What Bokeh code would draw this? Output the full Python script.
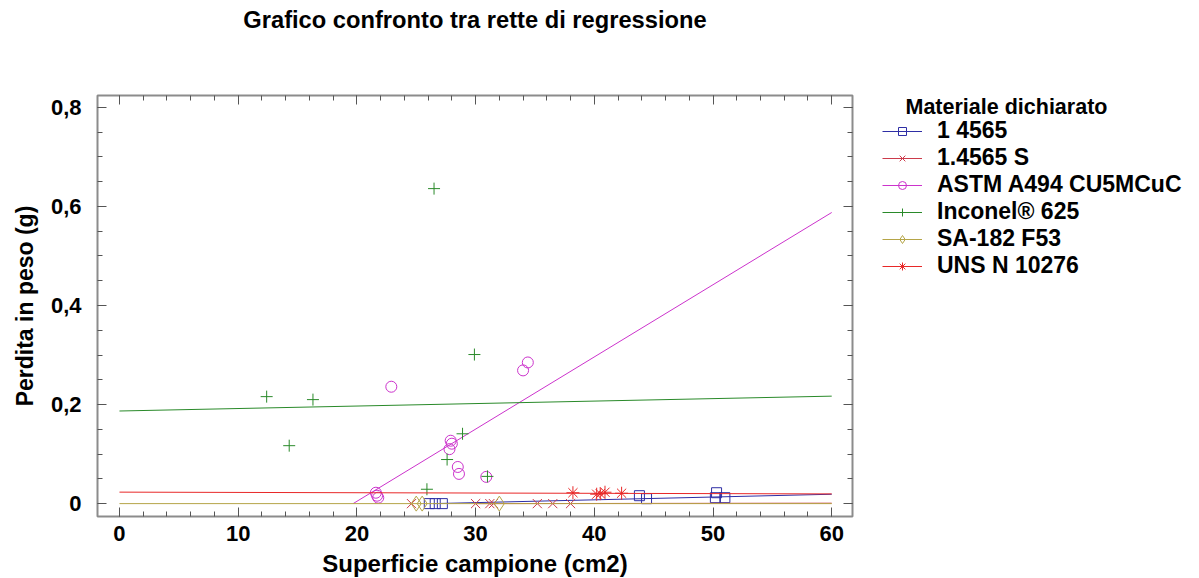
from bokeh.plotting import figure
from bokeh.layouts import row
from bokeh.models import (Range1d, FixedTicker, LinearAxis, Legend, LegendItem,
                          CustomJSTickFormatter, Grid, Label)
from bokeh.embed import file_html
from bokeh.resources import INLINE

FONT = "Liberation Sans"

# ---------------- data ----------------
series_names = ["1 4565", "1.4565 S", "ASTM A494 CU5MCuC",
                "Inconel\u00ae 625", "SA-182 F53", "UNS N 10276"]

x_14565 = [26.1, 26.6, 27.2, 43.8, 44.4, 50.2, 50.3, 51.0]
y_14565 = [0.0, 0.0, 0.0, 0.016, 0.010, 0.012, 0.022, 0.012]

x_14565s = [24.6, 30.0, 31.2, 31.5, 35.2, 36.5, 38.0]
y_14565s = [0.0, 0.0, 0.0, 0.0, 0.0, 0.0, 0.0]

x_astm = [21.6, 21.7, 21.8, 22.9, 27.8, 27.9, 28.0, 28.5, 28.6, 30.9, 34.0, 34.4]
y_astm = [0.022, 0.016, 0.012, 0.236, 0.110, 0.127, 0.121, 0.074, 0.060, 0.054, 0.269, 0.285]

x_inconel = [12.4, 14.3, 16.3, 25.9, 26.5, 27.6, 28.9, 29.9, 31.0]
y_inconel = [0.216, 0.117, 0.210, 0.029, 0.636, 0.089, 0.141, 0.301, 0.055]

x_sa182 = [25.0, 25.5, 32.0]
y_sa182 = [0.0, 0.0, 0.0]

x_uns = [38.2, 40.2, 40.5, 40.9, 42.3]
y_uns = [0.022, 0.019, 0.020, 0.023, 0.021]

# regression lines: intercept and slope of each series
fit_intercept = [-0.0149, -0.0009, -0.2870, 0.187, 0.0, 0.0232]
fit_slope = [0.000564, 0.00003, 0.01458, 0.00050, 0.0, -0.00006]
fit_x_range = [0, 60]

x_ticks = [0, 10, 20, 30, 40, 50, 60]
y_ticks = [0, 0.2, 0.4, 0.6, 0.8]

title_text = "Grafico confronto tra rette di regressione"
legend_title = "Materiale dichiarato"

# ---------------- styles ----------------
colors = ["#2E2EA5", "#CC3B4B", "#CC33CC", "#2A8A2A", "#B5A547", "#E82828"]
markers = ["square", "x", "circle", "cross", "diamond", "asterisk"]
sizes = [10, 13, 11, 12, 15, 13]
xs_all = [x_14565, x_14565s, x_astm, x_inconel, x_sa182, x_uns]
ys_all = [y_14565, y_14565s, y_astm, y_inconel, y_sa182, y_uns]

FW, FH = 755, 421
TOTAL_H = 578
p = figure(frame_width=FW, frame_height=FH,
           x_range=Range1d(-1.85, 61.75), y_range=Range1d(-0.026, 0.824),
           output_backend="svg", toolbar_location=None,
           x_axis_location=None, y_axis_location=None,
           min_border_left=97, min_border_top=95, min_border_bottom=62,
           min_border_right=15)
p.center = [r for r in p.center if not isinstance(r, Grid)]
p.outline_line_color = "#8C8C8C"
p.outline_line_width = 2
p.background_fill_color = "white"
p.border_fill_color = "white"

x_minor = list(range(0, 61, 2))
y_minor = [i * 0.05 for i in range(0, 17)]


def base_axis(ticker):
    ax = LinearAxis(ticker=ticker)
    ax.major_tick_in = 9
    ax.major_tick_out = 0
    ax.minor_tick_in = 5
    ax.minor_tick_out = 0
    ax.axis_line_color = None
    ax.major_tick_line_color = "#555555"
    ax.minor_tick_line_color = "#555555"
    ax.major_label_text_font = FONT
    ax.major_label_text_font_style = "bold"
    ax.major_label_text_font_size = "22px"
    ax.major_label_text_color = "black"
    ax.axis_label_text_font = FONT
    ax.axis_label_text_font_style = "bold"
    ax.axis_label_text_font_size = "22px"
    ax.axis_label_text_color = "black"
    return ax


def blank(ax):
    ax.formatter = CustomJSTickFormatter(code="return '';")
    ax.major_label_text_font_size = "1px"
    ax.major_label_standoff = 0


xt = FixedTicker(ticks=x_ticks, minor_ticks=x_minor)
yt = FixedTicker(ticks=y_ticks, minor_ticks=y_minor)

bottom = base_axis(xt)
bottom.axis_label = "Superficie campione (cm2)"
bottom.axis_label_text_font_size = "24px"
bottom.major_label_standoff = 9
bottom.axis_label_standoff = 6
p.add_layout(bottom, "below")

left = base_axis(yt)
left.axis_label = "Perdita in peso (g)"
left.axis_label_text_font_size = "23px"
left.formatter = CustomJSTickFormatter(
    code="return Math.abs(tick) < 1e-9 ? '0' : tick.toFixed(1).replace('.', ',');")
left.major_label_standoff = 16
left.axis_label_standoff = 10
p.add_layout(left, "left")

# top axis: ticks only; its label carries the chart title high above the frame
top = base_axis(FixedTicker(ticks=x_ticks, minor_ticks=x_minor))
blank(top)
top.axis_label = title_text
top.axis_label_text_font_size = "23.7px"
top.axis_label_standoff = 63
p.add_layout(top, "above")

right = base_axis(FixedTicker(ticks=y_ticks, minor_ticks=y_minor))
blank(right)
p.add_layout(right, "right")

for i in range(len(series_names)):
    b, m = fit_intercept[i], fit_slope[i]
    x0, x1 = fit_x_range
    if b + m * x0 < 0 and m > 0:
        x0 = -b / m
    if b + m * x1 < 0:
        x1 = x0
    p.line([x0, x1], [b + m * x0, b + m * x1], line_color=colors[i], line_width=1)
    p.scatter(xs_all[i], ys_all[i], marker=markers[i], size=sizes[i],
              line_color=colors[i], fill_color=None, line_width=1)

# ---------------- legend panel (same series, drawn off-range: key glyphs only) --------
LW = 320
q = figure(width=LW, height=TOTAL_H, x_range=Range1d(1000, 1001), y_range=Range1d(1000, 1001),
           output_backend="svg", toolbar_location=None,
           x_axis_location=None, y_axis_location=None,
           min_border_left=0, min_border_right=0, min_border_top=0, min_border_bottom=0)
q.center = [r for r in q.center if not isinstance(r, Grid)]
q.outline_line_color = None
q.background_fill_color = "white"
q.border_fill_color = "white"

items = []
for i, name in enumerate(series_names):
    lr = q.line(x=xs_all[i], y=ys_all[i], line_color=colors[i], line_width=1)
    sr = q.scatter(x=xs_all[i], y=ys_all[i], marker=markers[i], size=sizes[i],
                   line_color=colors[i], fill_color=None, line_width=1)
    items.append(LegendItem(label=name, renderers=[lr, sr]))

# q's frame is aligned with p's frame; legend rows start just under the title
legend = Legend(items=items, location=(15, 421 - 29 - 156))
legend.label_text_font = FONT
legend.label_text_font_style = "bold"
legend.label_text_font_size = "23px"
legend.label_text_color = "black"
legend.glyph_width = 40
legend.glyph_height = 20
legend.label_height = 20
legend.label_standoff = 15
legend.spacing = 0
legend.padding = 0
legend.margin = 0
legend.border_line_color = None
legend.background_fill_alpha = 0
q.add_layout(legend, "center")

q.add_layout(Label(x=38, y=421 - 12, x_units="screen", y_units="screen",
                   text=legend_title, text_font=FONT, text_font_style="bold",
                   text_font_size="21.5px", text_color="black",
                   text_baseline="middle", text_align="left"))

layout = row(p, q)
open("out.html", "w").write(file_html(layout, INLINE))
